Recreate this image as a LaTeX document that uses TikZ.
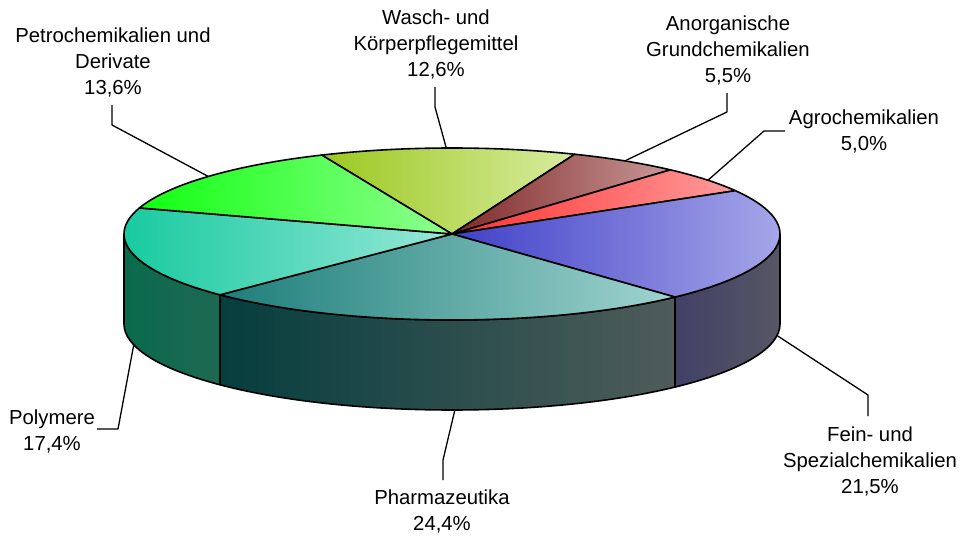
\documentclass[tikz,border=0pt]{standalone}
\usepackage{fontspec}
\setmainfont{Liberation Sans}

% slice colours (top faces: left / right ends of the gradient)
\definecolor{petroL}{HTML}{12FF12}
\definecolor{petroR}{HTML}{90FF90}
\definecolor{waschL}{HTML}{9CC820}
\definecolor{waschR}{HTML}{D8ECA0}
\definecolor{anorgL}{HTML}{802828}
\definecolor{anorgR}{HTML}{C89898}
\definecolor{agroL}{HTML}{FF3030}
\definecolor{agroR}{HTML}{FF9C9C}
\definecolor{feinL}{HTML}{4040C8}
\definecolor{feinR}{HTML}{B0B0EC}
\definecolor{pharmaL}{HTML}{1E7E7A}
\definecolor{pharmaR}{HTML}{A0D4D0}
\definecolor{polyL}{HTML}{10C89C}
\definecolor{polyR}{HTML}{98E8D8}
% side walls
\definecolor{polySL}{HTML}{0A6A4C}
\definecolor{polySR}{HTML}{4E6460}
\definecolor{pharmaSL}{HTML}{063E3E}
\definecolor{pharmaSR}{HTML}{4E5C5A}
\definecolor{feinSL}{HTML}{14146A}
\definecolor{feinSM}{HTML}{3A3A68}
\definecolor{feinSR}{HTML}{565664}

% top face of one slice: #1 start angle, #2 end angle, #3/#4 colours
\newcommand{\pietop}[4]{%
  \path[edge, left color=#3, right color=#4]
    (top) -- ++(#1:328 and 86)
    arc[start angle=#1, end angle=#2, x radius=328, y radius=86] -- cycle;}
% outer wall of one slice (front half only), 90 deep
\newcommand{\pieside}[4]{%
  \path[edge, left color=#3, right color=#4]
    (top) ++(#1:328 and 86)
    arc[start angle=#1, end angle=#2, x radius=328, y radius=86]
    -- ++(0,-90)
    arc[start angle=#2, end angle=#1, x radius=328, y radius=86] -- cycle;}

\begin{document}
\begin{tikzpicture}[x=1pt, y=1pt, line join=round,
  lbl/.style={font=\fontsize{20.3}{26}\selectfont, align=center, inner sep=0pt, anchor=base},
  leader/.style={draw=black, line width=1.3pt},
  edge/.style={draw=black, line width=1.6pt}]
\useasboundingbox (0,0) rectangle (961,536);

\coordinate (top) at (452,302);
\coordinate (bot) at (452,212);

% walls
\pieside{-180}{-135}{polySL}{polySR}
\pieside{-135}{-47.16}{pharmaSL}{pharmaSR}
\pieside{-47.16}{0}{feinSL}{feinSR}

% top faces
\pietop{113.4}{68.04}{waschL}{waschR}
\pietop{68.04}{48.24}{anorgL}{anorgR}
\pietop{48.24}{30.24}{agroL}{agroR}
\pietop{30.24}{-47.16}{feinL}{feinR}
\pietop{-47.16}{-135}{pharmaL}{pharmaR}
\pietop{-135}{-197.64}{polyL}{polyR}
\pietop{162.36}{113.4}{petroL}{petroR}

% labels (anchored at the baseline of their last line)
\node[lbl] (petro)  at (113,441) {Petrochemikalien und\\Derivate\\13,6\%};
\node[lbl] (wasch)  at (436,459) {Wasch- und\\Körperpflegemittel\\12,6\%};
\node[lbl] (anorg)  at (728,453) {Anorganische\\Grundchemikalien\\5,5\%};
\node[lbl] (agro)   at (864,385) {Agrochemikalien\\5,0\%};
\node[lbl] (fein)   at (870,43)  {Fein- und\\Spezialchemikalien\\21,5\%};
\node[lbl] (pharma) at (442,6)   {Pharmazeutika\\24,4\%};
\node[lbl] (poly)   at (52,86)   {Polymere\\17,4\%};

% leader anchor points on the pie
\path (top) ++(138:328 and 86) coordinate (petro-p);
\path (top) ++(91:328 and 86) coordinate (wasch-p);
\path (top) ++(58.2:328 and 86) coordinate (anorg-p);
\path (top) ++(38.7:328 and 86) coordinate (agro-p);
\path (bot) ++(-7.7:328 and 86) coordinate (fein-p);
\path (bot) ++(-89.5:328 and 86) coordinate (pharma-p);
\path (bot) ++(-166:328 and 86) coordinate (poly-p);

% bends and label ends of the leaders
\coordinate (petro-b)  at (112,411);  \coordinate (petro-e)  at (112,431);
\coordinate (wasch-b)  at (435,429);  \coordinate (wasch-e)  at (435,449);
\coordinate (anorg-b)  at (727,424);  \coordinate (anorg-e)  at (727,443);
\coordinate (agro-b)   at (764,405);  \coordinate (agro-e)   at (785,405);
\coordinate (fein-b)   at (868,141);  \coordinate (fein-e)   at (868,120);
\coordinate (pharma-b) at (443,76);   \coordinate (pharma-e) at (443,56);
\coordinate (poly-b)   at (118,107);  \coordinate (poly-e)   at (97,107);

\draw[leader] (petro-p)  -- (petro-b)  -- (petro-e);
\draw[leader] (wasch-p)  -- (wasch-b)  -- (wasch-e);
\draw[leader] (anorg-p)  -- (anorg-b)  -- (anorg-e);
\draw[leader] (agro-p)   -- (agro-b)   -- (agro-e);
\draw[leader] (fein-p)   -- (fein-b)   -- (fein-e);
\draw[leader] (pharma-p) -- (pharma-b) -- (pharma-e);
\draw[leader] (poly-p)   -- (poly-b)   -- (poly-e);
\end{tikzpicture}
\end{document}
